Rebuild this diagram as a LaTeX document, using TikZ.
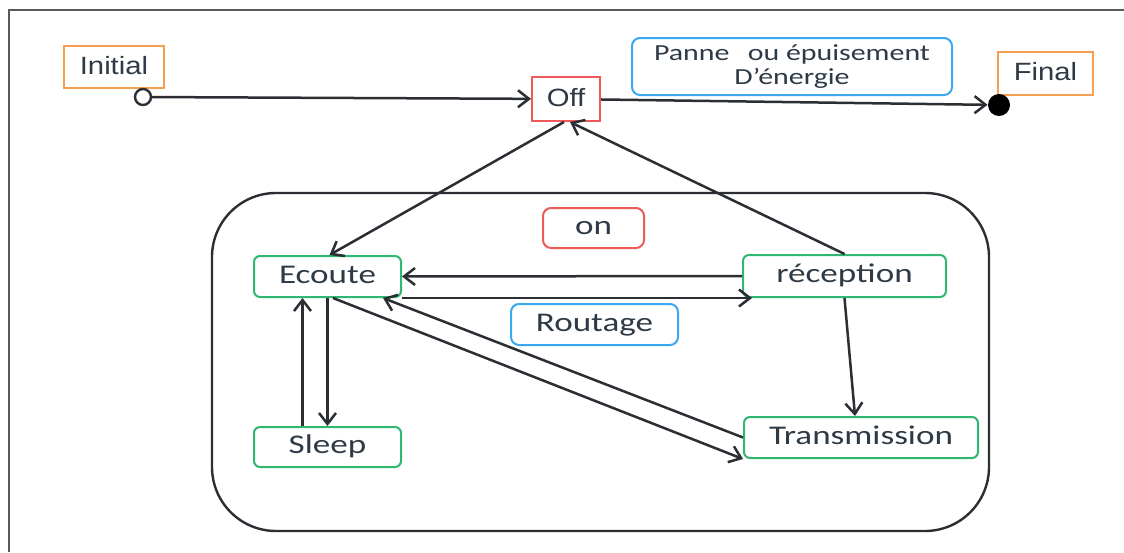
\documentclass[tikz,border=0pt]{standalone}
\usepackage{fontspec}
\usetikzlibrary{arrows.meta,calc}
\newfontfamily\calfont{Carlito}[FakeStretch=1.3]
\newfontfamily\arlfont{Liberation Sans}[FakeStretch=1.17]
\definecolor{ink}{HTML}{2B2F33}
\definecolor{txt}{HTML}{2E3A46}
\definecolor{ora}{HTML}{F5A050}
\definecolor{redb}{HTML}{EE5A5A}
\definecolor{grn}{HTML}{2EB872}
\definecolor{blu}{HTML}{3AA8EE}
\definecolor{framec}{HTML}{5A5A5A}

\tikzset{
  every node/.style={inner sep=0pt, text=txt},
  plainbox/.style={draw, line width=1pt, text height=0.92em, text depth=0.2em,
    font=\arlfont\fontsize{12.5}{14}\selectfont},
  statebox/.style={draw=grn, line width=1pt, rounded corners=3pt, minimum height=20.5pt,
    text height=0.86em, text depth=0.2em, font=\calfont\fontsize{13.5}{16}\selectfont},
  notebox/.style={line width=1pt, rounded corners=4pt,
    text height=0.86em, text depth=0.2em, font=\calfont\fontsize{13.5}{16}\selectfont},
  arr/.style={draw=ink, line width=1.25pt, -{Straight Barb[length=5.5pt,width=8.5pt]}},
}

\begin{document}
\begin{tikzpicture}[x=0.5pt,y=-0.5pt]
\useasboundingbox (0,0) rectangle (1124,552);
\fill[white] (0,0) rectangle (1124,552);

% page frame (left and top edges)
\draw[framec, line width=0.8pt] (9,552) -- (9,10) -- (1124,10);

% composite "on" state
\node[draw=ink, line width=1.2pt, rounded corners=32pt,
      minimum width=388.5pt, minimum height=169pt] (onbox) at (600.5,362) {};

% top level states
\node[plainbox, draw=ora, minimum width=50pt, minimum height=21pt] (initlbl) at (114,67) {Initial};
\node[plainbox, draw=redb, minimum width=34pt, minimum height=22pt] (off) at (566,99) {Off};
\node[plainbox, draw=ora, minimum width=47.5pt, minimum height=21.5pt] (finlbl) at (1045.5,73.5) {Final};
\node[draw=blu, line width=1pt, rounded corners=4pt, minimum width=160pt, minimum height=28.5pt,
      align=center, font=\calfont\fontsize{11.5}{12}\selectfont] (panne) at (792,66.5)
      {Panne\hspace{0.8em}ou épuisement\hspace{0.6em}\\ D’énergie\hspace{0.6em}};

% pseudo states
\node[circle, draw=ink, line width=1.2pt, fill=white, minimum size=8pt] (ini) at (143,97) {};
\node[circle, fill=black, minimum size=11pt] (fin) at (999,105) {};

% sub states
\node[notebox, draw=redb, minimum width=50.5pt, minimum height=20pt] (onlbl) at (593.5,228) {on};
\node[statebox, minimum width=73.5pt] (ec) at (327.5,276.5) {Ecoute};
\node[statebox, minimum width=101.5pt, minimum height=21pt] (rec) at (844.5,276) {réception};
\node[notebox, draw=blu, minimum width=83.5pt, minimum height=20.5pt] (rout) at (594.5,324.5) {Routage};
\node[statebox, minimum width=73.5pt, minimum height=20pt] (sl) at (327.5,447) {Sleep};
\node[statebox, minimum width=117pt] (tr) at (861,437.5) {Transmission};

% transitions
\draw[arr] (ini) -- (off);
\draw[arr] (off) -- (fin);
\draw[arr] ([xshift=-1pt]off.south) -- ([xshift=1pt]ec.north);
\draw[arr] (rec.north) -- ([xshift=2pt]off.south);
\draw[arr] (rec.west) -- (ec.east);
\draw[arr] (ec.south east) -- ([xshift=5pt]rec.south west);
\draw[arr] (ec.south) -- (sl.north);
\draw[arr] ([xshift=-12.5pt]sl.north) -- ([xshift=-12.5pt]ec.south);
\draw[arr] (rec.south) -- ([xshift=-3pt]tr.north);
\draw[arr] (tr.west) -- ([xshift=-9.5pt]ec.south east);
\draw[arr] ([xshift=2.75pt]ec.south) -- (tr.south west);
\end{tikzpicture}
\end{document}
